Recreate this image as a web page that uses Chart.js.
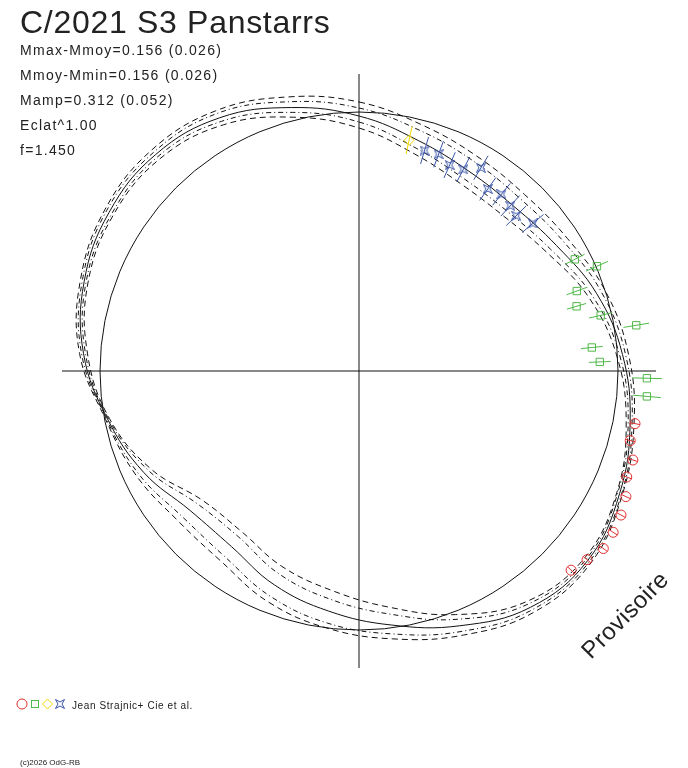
<!DOCTYPE html>
<html>
<head>
<meta charset="utf-8">
<script src="https://cdn.jsdelivr.net/npm/chart.js@4.4.1/dist/chart.umd.min.js"></script>
<style>
  html, body { margin: 0; padding: 0; background: #fff; }
</style>
</head>
<body>
<canvas id="courbe" width="688" height="768"></canvas>
<script>
// phase 0..1, sens horaire depuis le haut ; rayons
const phaseCourbe = [0, 0.04, 0.08, 0.12, 0.16, 0.20, 0.24, 0.28, 0.32, 0.36, 0.40, 0.44, 0.48,
  0.52, 0.56, 0.60, 0.64, 0.68, 0.72, 0.76, 0.80, 0.84, 0.88, 0.92, 0.96];
const courbe = [2.55, 2.38, 2.28, 2.26, 2.34, 2.50, 2.64, 2.76, 2.88, 2.97, 2.92, 2.74, 2.56,
  2.42, 2.30, 2.17, 2.19, 2.38, 2.56, 2.76, 2.89, 2.96, 2.97, 2.89, 2.72];
const enveloppeExt1 = [2.69, 2.54, 2.45, 2.42, 2.47, 2.59, 2.70, 2.80, 2.91, 3.01, 2.98, 2.84, 2.70,
  2.59, 2.48, 2.35, 2.35, 2.46, 2.58, 2.80, 2.93, 3.01, 3.03, 2.97, 2.83];
const enveloppeExt2 = [2.63, 2.48, 2.39, 2.36, 2.42, 2.55, 2.67, 2.78, 2.90, 2.99, 2.95, 2.80, 2.65,
  2.54, 2.42, 2.29, 2.29, 2.43, 2.57, 2.78, 2.91, 2.99, 3.00, 2.94, 2.78];
const enveloppeInt1 = [2.49, 2.30, 2.19, 2.18, 2.27, 2.45, 2.61, 2.74, 2.86, 2.95, 2.88, 2.67, 2.45,
  2.30, 2.18, 2.05, 2.09, 2.33, 2.55, 2.74, 2.87, 2.93, 2.94, 2.85, 2.67];
const enveloppeInt2 = [2.43, 2.24, 2.13, 2.12, 2.22, 2.41, 2.58, 2.72, 2.85, 2.93, 2.85, 2.62, 2.38,
  2.21, 2.10, 1.99, 2.03, 2.30, 2.54, 2.72, 2.85, 2.91, 2.91, 2.81, 2.62];
const cercle = 2.59;

const phaseJaune = [0.034];
const rayonJaune = [2.36];
const errJaune = [0.14];

const phaseBleu = [0.046, 0.056, 0.066, 0.076, 0.086, 0.097, 0.107, 0.117, 0.126, 0.137];
const rayonBleu = [2.30, 2.31, 2.25, 2.27, 2.37, 2.23, 2.27, 2.24, 2.21, 2.28];
const errBleu = [0.14, 0.14, 0.14, 0.14, 0.14, 0.14, 0.14, 0.14, 0.14, 0.14];

const phaseVert = [0.174, 0.184, 0.194, 0.204, 0.214, 0.224, 0.234, 0.244, 0.254, 0.264];
const rayonVert = [2.43, 2.60, 2.32, 2.27, 2.48, 2.81, 2.34, 2.41, 2.88, 2.89];
const errVert = [0.11, 0.12, 0.11, 0.10, 0.12, 0.13, 0.11, 0.11, 0.15, 0.14];

const phaseRouge = [0.280, 0.289, 0.300, 0.310, 0.320, 0.330, 0.340, 0.350, 0.360, 0.370];
const rayonRouge = [2.81, 2.80, 2.88, 2.88, 2.95, 2.99, 3.01, 3.02, 2.96, 2.91];
const errRouge = [0.05, 0.05, 0.05, 0.05, 0.05, 0.05, 0.05, 0.05, 0.05, 0.05];

const titre = 'C/2021 S3 Panstarrs';
const lignesInfo = ['Mmax-Mmoy=0.156 (0.026)', 'Mmoy-Mmin=0.156 (0.026)', 'Mamp=0.312 (0.052)', 'Eclat^1.00', 'f=1.450'];
const observateurs = 'Jean Strajnic+ Cie et al.';

const NB = 500;
const etiquettes = [];
for (let i = 0; i < NB; i++) etiquettes.push((i / NB).toFixed(3));

function serie(phases, valeurs) {
  const d = new Array(NB).fill(null);
  phases.forEach((p, k) => { d[Math.round(p * NB) % NB] = valeurs[k]; });
  return d;
}

function etoile(couleur) {
  const c = document.createElement('canvas');
  c.width = 10; c.height = 10;
  const g = c.getContext('2d');
  g.strokeStyle = couleur;
  g.lineWidth = 1;
  g.beginPath();
  g.moveTo(0.5, 0.5); g.lineTo(5, 3); g.lineTo(9.5, 0.5); g.lineTo(7, 5);
  g.lineTo(9.5, 9.5); g.lineTo(5, 7); g.lineTo(0.5, 9.5); g.lineTo(3, 5);
  g.closePath();
  g.stroke();
  return c;
}
const marqueBleu = etoile('#3a55a8');

function ligne(valeurs, dash) {
  return { data: serie(phaseCourbe, valeurs), borderColor: '#111', borderWidth: 1, borderDash: dash,
    pointRadius: 0, fill: false, tension: 0.4, spanGaps: true };
}
function mesures(phases, valeurs, erreurs, couleur, style, taille) {
  return { data: serie(phases, valeurs), erreurs: serie(phases, erreurs), borderColor: couleur,
    pointBorderColor: couleur, pointBackgroundColor: 'rgba(0,0,0,0)', backgroundColor: 'rgba(0,0,0,0)',
    showLine: false, pointStyle: style, pointRadius: taille, pointBorderWidth: 1, fill: false };
}

const barresErreur = {
  id: 'barresErreur',
  afterDatasetsDraw(chart) {
    const r = chart.scales.r;
    const ctx = chart.ctx;
    chart.data.datasets.forEach((ds) => {
      if (!ds.erreurs) return;
      ctx.save();
      ctx.strokeStyle = ds.borderColor;
      ctx.lineWidth = 1;
      ds.data.forEach((v, i) => {
        if (v === null) return;
        const a = r.getPointPositionForValue(i, v - ds.erreurs[i]);
        const b = r.getPointPositionForValue(i, v + ds.erreurs[i]);
        ctx.beginPath();
        ctx.moveTo(a.x, a.y);
        ctx.lineTo(b.x, b.y);
        ctx.stroke();
      });
      ctx.restore();
    });
  }
};

const textes = {
  id: 'textes',
  afterDraw(chart) {
    const ctx = chart.ctx;
    ctx.save();
    ctx.fillStyle = '#222';
    ctx.font = '32px "Liberation Sans", Arial, sans-serif';
    ctx.letterSpacing = '0.7px';
    ctx.fillText(titre, 20, 33);
    ctx.font = '14px "Liberation Sans", Arial, sans-serif';
    ctx.letterSpacing = '1.3px';
    lignesInfo.forEach((t, i) => ctx.fillText(t, 20, 54.5 + i * 25.2));

    // legende
    ctx.lineWidth = 1;
    ctx.strokeStyle = '#e03030';
    ctx.beginPath(); ctx.arc(22, 704, 5, 0, Math.PI * 2); ctx.stroke();
    ctx.strokeStyle = '#50b848';
    ctx.strokeRect(31.5, 700.5, 7, 7);
    ctx.strokeStyle = '#f0d800';
    ctx.beginPath(); ctx.moveTo(47.5, 699); ctx.lineTo(52.5, 704); ctx.lineTo(47.5, 709); ctx.lineTo(42.5, 704); ctx.closePath(); ctx.stroke();
    ctx.drawImage(marqueBleu, 55, 699);
    ctx.font = '10px "Liberation Sans", Arial, sans-serif';
    ctx.letterSpacing = '0.6px';
    ctx.fillText(observateurs, 72, 709);
    ctx.font = '8px "Liberation Sans", Arial, sans-serif';
    ctx.letterSpacing = '0px';
    ctx.fillText('(c)2026 OdG-RB', 20, 765);

    ctx.font = '24px "Liberation Sans", Arial, sans-serif';
    ctx.letterSpacing = '0.5px';
    ctx.translate(591, 660);
    ctx.rotate(-Math.PI / 4);
    ctx.fillText('Provisoire', 0, 0);
    ctx.restore();
  }
};

new Chart(document.getElementById('courbe'), {
  type: 'radar',
  data: {
    labels: etiquettes,
    datasets: [
      mesures(phaseRouge, rayonRouge, errRouge, '#e03030', 'circle', 5),
      mesures(phaseVert, rayonVert, errVert, '#50b848', 'rect', 5.2),
      mesures(phaseJaune, rayonJaune, errJaune, '#f0d800', 'rectRot', 5),
      mesures(phaseBleu, rayonBleu, errBleu, '#3a55a8', marqueBleu, 5),
      ligne(courbe, []),
      ligne(enveloppeExt1, [6, 4]),
      ligne(enveloppeExt2, [5, 3, 1, 3]),
      ligne(enveloppeInt1, [5, 3, 1, 3]),
      ligne(enveloppeInt2, [6, 4])
    ]
  },
  options: {
    responsive: false,
    animation: false,
    events: [],
    layout: { padding: { left: 62, top: 74, right: 32, bottom: 100 } },
    plugins: { legend: { display: false }, tooltip: { enabled: false } },
    scales: {
      r: {
        min: 0,
        max: 2.97,
        ticks: { display: false },
        pointLabels: { display: false },
        grid: { display: true, circular: true, color: '#111', lineWidth: 1 },
        angleLines: { display: true, color: '#111', lineWidth: (c) => (c.index % 125 === 0 ? 1 : 0) },
        afterBuildTicks: (s) => { s.ticks = [{ value: 0 }, { value: cercle }]; }
      }
    }
  },
  plugins: [barresErreur, textes]
});
</script>
</body>
</html>
